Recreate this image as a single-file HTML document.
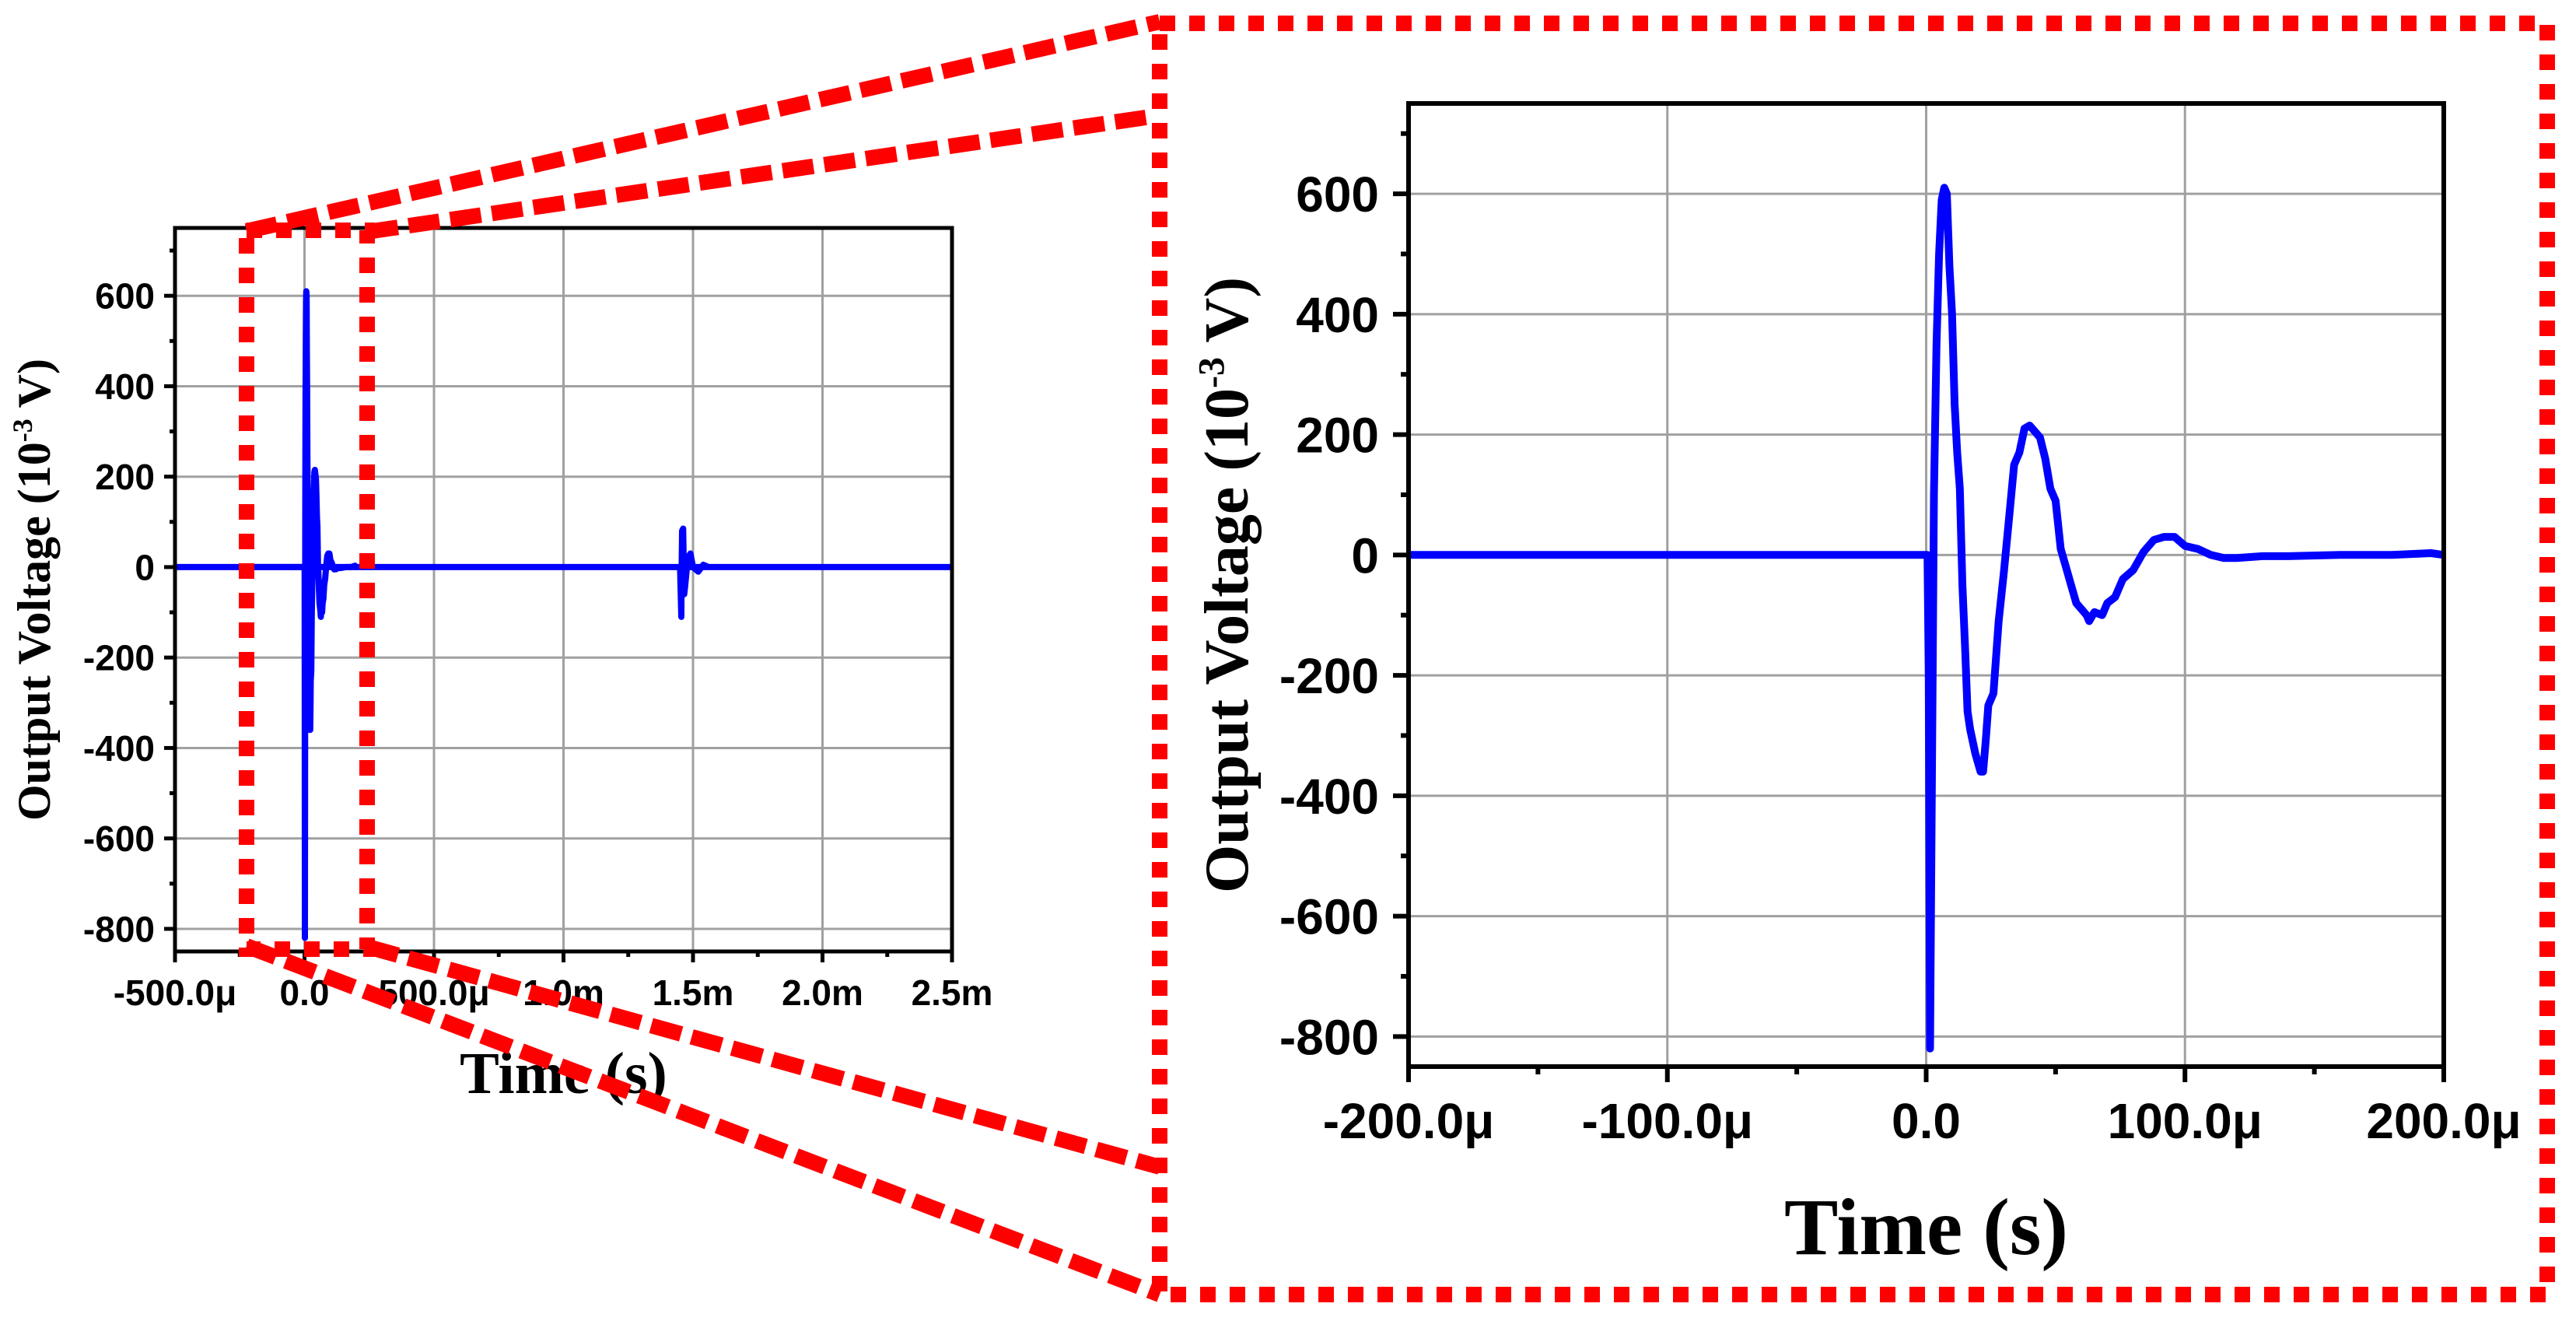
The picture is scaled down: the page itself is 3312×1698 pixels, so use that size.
<!DOCTYPE html>
<html><head><meta charset="utf-8">
<style>
html,body{margin:0;padding:0;background:#fff;}
svg{display:block;}
.tk{font-family:"Liberation Sans Narrow","Liberation Sans",Arial,sans-serif;font-weight:bold;fill:#000;}
.tt{font-family:"Liberation Serif","Times New Roman",serif;font-weight:bold;fill:#000;}
</style></head>
<body>
<svg id="fig" width="3312" height="1698" viewBox="0 0 3312 1698" xmlns="http://www.w3.org/2000/svg">
<g id="left"></g>
<g id="right"></g>
<g id="zoomdeco"></g>
</svg>
<script>
// Zoomed waveform (time in µs, voltage in mV)
const zoomTimes = [-200,0,0.5,1,1.5,2,3,4,5,6,7,8,9,10,11,12,13,14,15,16,17,18,19,20,21,22,23,24,26,28,30,32,34,36,38,40,42,44,46,48,50,52,54,56,58,60,62,63,65,68,70,73,76,80,84,88,92,96,100,105,110,115,120,130,140,160,180,195,200];
const zoomVolts = [0,0,0,-200,-820,-500,100,350,500,590,610,600,480,400,250,170,110,-50,-150,-260,-290,-310,-330,-345,-360,-360,-310,-250,-230,-110,-30,60,150,170,210,215,205,195,160,110,90,10,-20,-50,-80,-90,-100,-110,-95,-100,-80,-70,-40,-25,5,25,30,30,15,10,0,-5,-5,-2,-2,0,0,3,0];
// Second burst in overview (time in µs, voltage in mV)
const burst2Times = [1450,1455,1456,1458,1462,1466,1470,1480,1490,1500,1520,1540,1560];
const burst2Volts = [0,-110,-20,80,85,-60,-40,20,30,0,-10,5,0];
// Flat baseline across the full overview record
const baseTimes = [-500,2500];
const baseVolts = [0,0];
const yTicks = [-800,-600,-400,-200,0,200,400,600];
const leftXTicks = [-500,0,500,1000,1500,2000,2500];
const leftXLabels = ["-500.0\u03bc","0.0","500.0\u03bc","1.0m","1.5m","2.0m","2.5m"];
const rightXTicks = [-200,-100,0,100,200];
const rightXLabels = ["-200.0\u03bc","-100.0\u03bc","0.0","100.0\u03bc","200.0\u03bc"];

const NS="http://www.w3.org/2000/svg";
function mk(parent,tag,attrs,text){const e=document.createElementNS(NS,tag);for(const k in attrs)e.setAttribute(k,attrs[k]);if(text!==undefined)e.textContent=text;parent.appendChild(e);return e;}

function chart(g,cfg){
  const {L,R,T,B,xmin,xmax,ymin,ymax,xt,xl,fs,tl,lw,axw,series,ytitleX,xtitleY,xtfs,ytfs,lblGap,xlblY,id}=cfg;
  const sx=v=>L+(v-xmin)/(xmax-xmin)*(R-L);
  const sy=v=>B-(v-ymin)/(ymax-ymin)*(B-T);
  xt.forEach(v=>{if(v>xmin&&v<xmax){const l=mk(g,'line',{x1:sx(v),x2:sx(v),y1:T,y2:B,stroke:'#a0a0a0','stroke-width':3});
    
    }});
  yTicks.forEach(v=>{const l=mk(g,'line',{x1:L,x2:R,y1:sy(v),y2:sy(v),stroke:'#a0a0a0','stroke-width':3});
    
    });
  const cp=mk(g,'clipPath',{id:id+'clip'});
  mk(cp,'rect',{x:L,y:T,width:R-L,height:B-T});
  series.forEach(s=>{
    const pts=s.t.map((t,i)=>sx(t).toFixed(1)+','+sy(s.v[i]).toFixed(1)).join(' ');
    const p=mk(g,'polyline',{points:pts,fill:'none',stroke:'#0000ff','stroke-width':lw,'stroke-linejoin':'round','clip-path':'url(#'+id+'clip)'});
    
    
  });
  const f=mk(g,'rect',{x:L,y:T,width:R-L,height:B-T,fill:'none',stroke:'#000','stroke-width':axw});
  
  
  yTicks.forEach(v=>{mk(g,'line',{x1:L-tl,x2:L,y1:sy(v),y2:sy(v),stroke:'#000','stroke-width':axw});
    mk(g,'line',{x1:L-tl/2,x2:L,y1:sy(v+100),y2:sy(v+100),stroke:'#000','stroke-width':axw});
    const t=mk(g,'text',{x:L-lblGap,y:sy(v)+fs*0.36,'text-anchor':'end','font-size':fs,class:'tk'},String(v));
    
    });
  xt.forEach((v,i)=>{mk(g,'line',{x1:sx(v),x2:sx(v),y1:B,y2:B+tl,stroke:'#000','stroke-width':axw});
    if(i<xt.length-1)mk(g,'line',{x1:sx((v+xt[i+1])/2),x2:sx((v+xt[i+1])/2),y1:B,y2:B+tl/2,stroke:'#000','stroke-width':axw});
    const t=mk(g,'text',{x:sx(v),y:xlblY,'text-anchor':'middle','font-size':fs,class:'tk'},xl[i]);
    
    });
  const xtt=mk(g,'text',{x:(L+R)/2,y:xtitleY,'text-anchor':'middle','font-size':xtfs,class:'tt'},'Time (s)');
  
  
  const yc=(T+B)/2;
  const ytt=mk(g,'text',{x:ytitleX,y:yc,'text-anchor':'middle','font-size':ytfs,class:'tt',transform:'rotate(-90 '+ytitleX+' '+yc+')'});
  
  
  ytt.appendChild(document.createTextNode('Output Voltage (10'));
  mk(ytt,'tspan',{'font-size':ytfs*0.6,dy:-ytfs*0.38},'-3');
  mk(ytt,'tspan',{dy:ytfs*0.38},' V)');
}

chart(document.getElementById('left'),{id:'l',L:225,R:1224,T:293,B:1223,xmin:-500,xmax:2500,ymin:-850,ymax:750,
  xt:leftXTicks,xl:leftXLabels,fs:46,tl:14,lw:8,axw:5,lblGap:26,xlblY:1292,xtitleY:1405,xtfs:76,ytfs:60,ytitleX:64,
  series:[{t:baseTimes,v:baseVolts},{t:zoomTimes,v:zoomVolts},{t:burst2Times,v:burst2Volts}]});
chart(document.getElementById('right'),{id:'r',L:1811,R:3142,T:133,B:1371,xmin:-200,xmax:200,ymin:-850,ymax:750,
  xt:rightXTicks,xl:rightXLabels,fs:64,tl:20,lw:10,axw:6,lblGap:38,xlblY:1463,xtitleY:1612,xtfs:104,ytfs:80,ytitleX:1604,
  series:[{t:zoomTimes,v:zoomVolts}]});

const z=document.getElementById('zoomdeco');
const r1=mk(z,'rect',{x:317,y:296,width:155,height:924,fill:'none',stroke:'#ff0000','stroke-width':20,'stroke-dasharray':'20 18'});


const r2=mk(z,'rect',{x:1491,y:30,width:1784,height:1634,fill:'none',stroke:'#ff0000','stroke-width':20,'stroke-dasharray':'20 18'});


[[317,297,1491,28],[472,298,1480,150],[317,1216,1491,1664],[473,1217,1491,1500]].forEach(c=>{
  const l=mk(z,'line',{x1:c[0],y1:c[1],x2:c[2],y2:c[3],stroke:'#ff0000','stroke-width':20,'stroke-dasharray':'40 14'});
  
  
});
</script>
</body></html>
